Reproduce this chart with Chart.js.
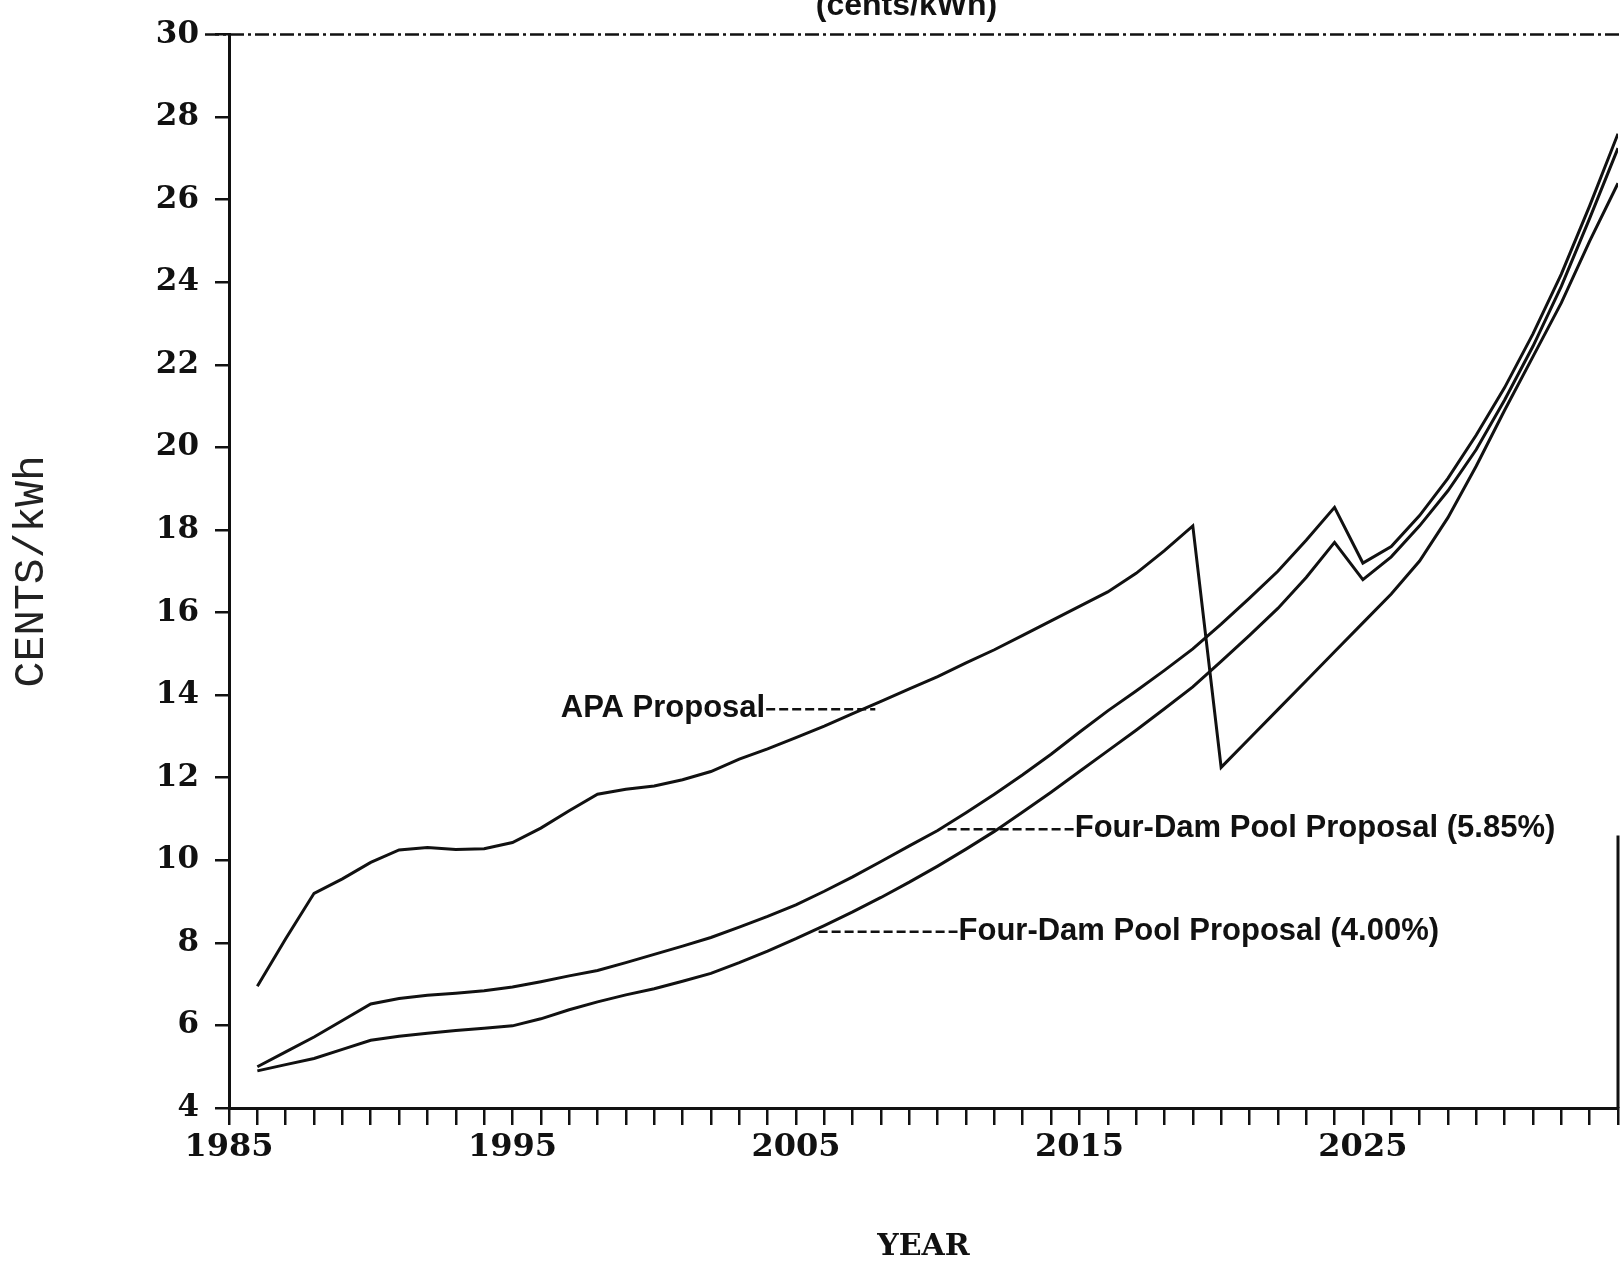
<!DOCTYPE html>
<html>
<head>
<meta charset="utf-8">
<script src="https://cdn.jsdelivr.net/npm/chart.js@4.4.1/dist/chart.umd.min.js"></script>
<style>
  html,body{margin:0;padding:0;background:#fff;}
  #wrap{width:1621px;height:1262px;}
</style>
</head>
<body>
<div id="wrap"><canvas id="priceChart" width="1621" height="1262"></canvas></div>
<script>
const years=[1986,1987,1988,1989,1990,1991,1992,1993,1994,1995,1996,1997,1998,1999,2000,2001,2002,2003,2004,2005,
  2006,2007,2008,2009,2010,2011,2012,2013,2014,2015,2016,2017,2018,2019,2020,2021,2022,2023,2024,2025,
  2026,2027,2028,2029,2030,2031,2032,2033,2034];

const apaProposal=[6.95,8.1,9.2,9.55,9.95,10.25,10.31,10.26,10.28,10.43,10.78,11.2,11.6,11.72,11.8,11.95,12.15,12.45,12.7,12.97,
  13.25,13.55,13.85,14.15,14.45,14.78,15.1,15.45,15.8,16.15,16.5,16.95,17.5,18.1,12.25,12.95,13.65,14.35,15.05,15.75,
  16.45,17.25,18.3,19.55,20.9,22.2,23.5,25.0,26.4];

const fourDamPool585=[5.0,5.36,5.72,6.12,6.52,6.65,6.73,6.78,6.84,6.93,7.06,7.2,7.33,7.52,7.72,7.92,8.13,8.38,8.64,8.92,
  9.25,9.6,9.97,10.35,10.72,11.15,11.6,12.07,12.57,13.1,13.62,14.1,14.6,15.12,15.72,16.35,17.0,17.75,18.55,17.2,
  17.6,18.35,19.25,20.3,21.45,22.75,24.2,25.85,27.6];

const fourDamPool400=[4.9,5.05,5.2,5.42,5.64,5.74,5.81,5.88,5.93,5.99,6.16,6.38,6.57,6.74,6.89,7.07,7.26,7.52,7.8,8.1,
  8.42,8.75,9.1,9.47,9.86,10.27,10.7,11.17,11.65,12.15,12.65,13.15,13.67,14.2,14.82,15.45,16.1,16.85,17.7,16.8,
  17.35,18.1,18.95,19.95,21.15,22.45,23.9,25.55,27.25];

const xLabelYears=[1985,1995,2005,2015,2025];
const seriesNames=['APA Proposal','Four-Dam Pool Proposal (5.85%)','Four-Dam Pool Proposal (4.00%)'];

// leader lines drawn next to the curves
const callouts=[
  {text:seriesNames[0],from:2003.95,to:2007.8,value:13.66,side:'left'},
  {text:seriesNames[1],from:2010.35,to:2014.8,value:10.75,side:'right'},
  {text:seriesNames[2],from:2005.8,to:2010.7,value:8.27,side:'right'},
];

const toPoints=(values)=>years.map((yr,i)=>({x:yr,y:values[i]}));

const paperMarks={
  id:'paperMarks',
  afterDraw(chart){
    const {ctx,chartArea,scales:{x,y}}=chart;
    ctx.save();
    ctx.strokeStyle='#111';
    ctx.fillStyle='#111';

    // dash-dot frame line along the top
    const topY=y.getPixelForValue(30);
    ctx.lineWidth=2.5;
    ctx.setLineDash([14,4,3,4]);
    ctx.beginPath();
    ctx.moveTo(chartArea.left-24,topY);
    ctx.lineTo(chart.width,topY);
    ctx.stroke();

    // piece of the right frame
    ctx.setLineDash([]);
    ctx.lineWidth=3;
    ctx.beginPath();
    ctx.moveTo(chartArea.right,y.getPixelForValue(10.6));
    ctx.lineTo(chartArea.right,y.getPixelForValue(4));
    ctx.stroke();

    ctx.font='bold 32px "Liberation Sans"';
    ctx.textAlign='center';
    ctx.textBaseline='alphabetic';
    ctx.fillText('(cents/kWh)',x.getPixelForValue(2008.9),15);

    ctx.font='bold 31px "Liberation Sans"';
    callouts.forEach(c=>{
      const py=y.getPixelForValue(c.value);
      const x0=x.getPixelForValue(c.from);
      const x1=x.getPixelForValue(c.to);
      ctx.lineWidth=2.5;
      ctx.setLineDash([9,4]);
      ctx.beginPath();
      ctx.moveTo(x0,py);
      ctx.lineTo(x1,py);
      ctx.stroke();
      ctx.setLineDash([]);
      if(c.side==='left'){
        ctx.textAlign='right';
        ctx.fillText(c.text,x0-1,py+8);
      }else{
        ctx.textAlign='left';
        ctx.fillText(c.text,x1+1,py+8);
      }
    });
    ctx.restore();
  }
};

Chart.defaults.font.family='"DejaVu Serif"';
Chart.defaults.color='#111';

const ctx=document.getElementById('priceChart').getContext('2d');
const lineStyle={borderColor:'#111',borderWidth:3,pointRadius:0,fill:false,tension:0};

const priceChart=new Chart(ctx,{
  type:'line',
  data:{
    datasets:[
      {label:seriesNames[0],data:toPoints(apaProposal),...lineStyle},
      {label:seriesNames[1],data:toPoints(fourDamPool585),...lineStyle},
      {label:seriesNames[2],data:toPoints(fourDamPool400),...lineStyle},
    ]
  },
  options:{
    responsive:false,
    devicePixelRatio:1,
    animation:false,
    layout:{padding:{top:31,right:3,left:0,bottom:0}},
    plugins:{legend:{display:false},tooltip:{enabled:false}},
    scales:{
      x:{
        type:'linear',
        min:1985,
        max:2034,
        afterFit:scale=>{scale.height=154;},
        border:{display:true,color:'#111',width:3},
        grid:{drawOnChartArea:false,drawTicks:true,tickLength:17,color:'#111',lineWidth:2.5},
        ticks:{
          stepSize:1,
          autoSkip:false,
          maxRotation:0,
          padding:3,
          color:'#111',
          font:{size:32,weight:'bold'},
          callback:function(value){
            return xLabelYears.includes(value)?String(value):'';
          }
        },
        title:{display:true,text:'YEAR',color:'#111',font:{size:30,weight:'bold',lineHeight:1},padding:{top:0,bottom:0}}
      },
      y:{
        min:4,
        max:30,
        afterFit:scale=>{scale.width=229;},
        border:{display:true,color:'#111',width:3},
        grid:{drawOnChartArea:false,drawTicks:true,tickLength:14,color:'#111',lineWidth:2.5},
        ticks:{stepSize:2,padding:16,color:'#111',font:{size:31,weight:'bold'}},
        title:{display:true,text:'CENTS/kWh',color:'#222',font:{family:'"Liberation Mono"',size:43},padding:{top:6,bottom:0}}
      }
    }
  },
  plugins:[paperMarks]
});
</script>
</body>
</html>
